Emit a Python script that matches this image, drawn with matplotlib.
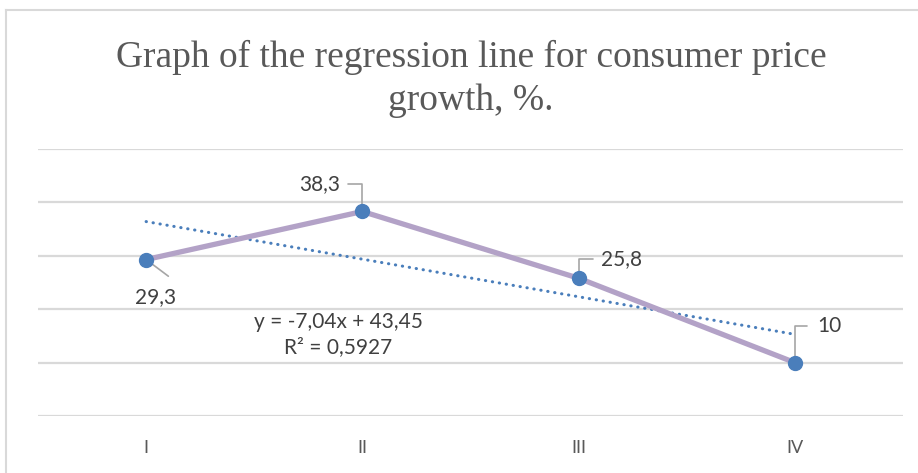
import numpy as np
from matplotlib import pyplot as plt
from matplotlib.lines import Line2D

quarters = ["I", "II", "III", "IV"]
growth = [29.3, 38.3, 25.8, 10]
labels = ["29,3", "38,3", "25,8", "10"]
slope = -7.04
intercept = 43.45
equation = "y = -7,04x + 43,45\nR² = 0,5927"

W, H = 918, 473
fig = plt.figure(figsize=(W / 100, H / 100), dpi=100)
ax = fig.add_axes([38 / W, 57 / H, 865 / W, 267 / H])

x = np.arange(1, len(growth) + 1)
ax.plot(x, growth, color="#b3a2c7", lw=3.8, solid_capstyle="round", zorder=3)
ax.plot(x, growth, "o", color="#4a7ebb", ms=10, zorder=4)

# linear trend line
xt = np.array([1, 4])
ax.plot(xt, slope * xt + intercept, color="#4a7ebb", lw=2.2,
        linestyle=(0, (0.1, 2.2)), dash_capstyle="round", zorder=2)

ax.set_xlim(0.5, 4.5)
ax.set_ylim(0, 50)
ax.set_yticks(range(0, 51, 10))
ax.yaxis.grid(True, color="#d9d9d9", lw=1.6)
ax.set_axisbelow(True)
for s in ax.spines.values():
    s.set_visible(False)
ax.tick_params(left=False, bottom=False, labelleft=False)
ax.set_xticks(x)
ax.set_xticklabels(quarters, color="#595959", fontsize=13, family="Lato")
ax.tick_params(axis="x", pad=14)

# data labels with leader lines (offsets in points)
lab_font = dict(fontsize=15, color="#404040", family="Lato")
lead = dict(color="#a6a6a6", lw=1.2)
elbow = "angle,angleA=0,angleB=90,rad=0"
# 29,3 : below right
ax.annotate(labels[0], (x[0], growth[0]), xytext=(-8, -27), textcoords="offset points",
            ha="left", va="center", **lab_font)
ax.annotate("", (x[0], growth[0]), xytext=(16, -12), textcoords="offset points",
            arrowprops=dict(arrowstyle="-", shrinkA=0, shrinkB=0, **lead))
# 38,3 : above left, elbow
ax.annotate(labels[1], (x[1], growth[1]), xytext=(-16, 20), textcoords="offset points",
            ha="right", va="center", **lab_font)
ax.annotate("", (x[1], growth[1]), xytext=(-10, 20), textcoords="offset points",
            arrowprops=dict(arrowstyle="-", shrinkA=0, shrinkB=0,
                            connectionstyle=elbow, **lead))
# 25,8 : above right, elbow
ax.annotate(labels[2], (x[2], growth[2]), xytext=(16, 14), textcoords="offset points",
            ha="left", va="center", **lab_font)
ax.annotate("", (x[2], growth[2]), xytext=(10, 14), textcoords="offset points",
            arrowprops=dict(arrowstyle="-", shrinkA=0, shrinkB=0,
                            connectionstyle=elbow, **lead))
# 10 : above right, elbow
ax.annotate(labels[3], (x[3], growth[3]), xytext=(16, 26), textcoords="offset points",
            ha="left", va="center", **lab_font)
ax.annotate("", (x[3], growth[3]), xytext=(9, 26), textcoords="offset points",
            arrowprops=dict(arrowstyle="-", shrinkA=0, shrinkB=0,
                            connectionstyle=elbow, **lead))

ax.text(1.89, 15.2, equation, ha="center", va="center", linespacing=1.3, **lab_font)

fig.text(471 / W, 1 - 79 / H, "Graph of the regression line for consumer price\ngrowth, %.",
         ha="center", va="center", fontsize=27, color="#595959",
         family="Liberation Serif", linespacing=1.33)

# chart area border
fig.add_artist(Line2D([5.5 / W, 5.5 / W], [0, 1 - 10 / H], color="#d9d9d9", lw=1.5))
fig.add_artist(Line2D([5.5 / W, 1], [1 - 10 / H, 1 - 10 / H], color="#d9d9d9", lw=1.5))

fig.savefig("out.png", dpi=100)
